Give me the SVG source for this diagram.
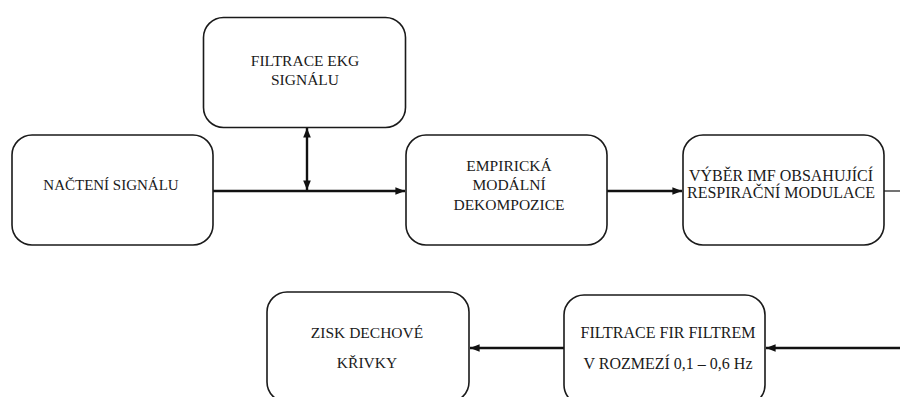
<svg xmlns="http://www.w3.org/2000/svg" width="900" height="397" viewBox="0 0 900 397">
<style>
.box{fill:#fff;stroke:#1a1a1a;stroke-width:1.6}
.t{font-family:'Liberation Serif','Times New Roman',serif;font-size:15.5px;fill:#1a1a1a;text-anchor:middle}
.l{font-size:16px}
.c{stroke:#111;stroke-width:2.4;fill:none}
.thin{stroke:#444;stroke-width:1.5;fill:none}
</style>
<defs>
<marker id="ah" viewBox="0 0 10 10" refX="10" refY="5" markerWidth="4" markerHeight="4" orient="auto-start-reverse" markerUnits="strokeWidth">
<path d="M0,1 L10,5 L0,9 z" fill="#111"/>
</marker>
</defs>
<g id="connectors">
<line class="c" x1="213" y1="191" x2="405" y2="191" marker-end="url(#ah)"/>
<line class="c" x1="307" y1="128" x2="307" y2="190" marker-start="url(#ah)" marker-end="url(#ah)"/>
<line class="c" x1="607" y1="191" x2="682" y2="191" marker-end="url(#ah)"/>
<line class="thin" x1="884" y1="191" x2="900" y2="191"/>
<line class="c" x1="900" y1="348" x2="766" y2="348" marker-end="url(#ah)"/>
<line class="c" x1="564" y1="348" x2="470" y2="348" marker-end="url(#ah)"/>
</g>
<g id="n-filtrace-ekg">
<rect class="box" x="203.5" y="17.5" width="202" height="110" rx="20"/>
<text class="t" x="305" y="66">FILTRACE EKG</text>
<text class="t" x="305" y="85">SIGNÁLU</text>
</g>
<g id="n-nacteni">
<rect class="box" x="12" y="135" width="201" height="110" rx="20"/>
<text class="t" x="111" y="190" style="font-size:15px">NAČTENÍ SIGNÁLU</text>
</g>
<g id="n-emd">
<rect class="box" x="406" y="135" width="201" height="110" rx="20"/>
<text class="t" x="509" y="171">EMPIRICKÁ</text>
<text class="t" x="509" y="190">MODÁLNÍ</text>
<text class="t" x="509" y="210">DEKOMPOZICE</text>
</g>
<g id="n-vyber">
<rect class="box" x="683" y="135" width="201" height="110" rx="20"/>
<text class="t l" x="781" y="181">VÝBĚR IMF OBSAHUJÍCÍ</text>
<text class="t l" x="781" y="198">RESPIRAČNÍ MODULACE</text>
</g>
<g id="n-fir">
<rect class="box" x="564" y="295" width="201" height="110" rx="20"/>
<text class="t l" x="668" y="338">FILTRACE FIR FILTREM</text>
<text class="t l" x="668" y="369">V ROZMEZÍ 0,1 – 0,6 Hz</text>
</g>
<g id="n-zisk">
<rect class="box" x="267" y="292" width="202" height="110" rx="20"/>
<text class="t" x="367" y="338">ZISK DECHOVÉ</text>
<text class="t" x="367" y="368">KŘIVKY</text>
</g>
</svg>
